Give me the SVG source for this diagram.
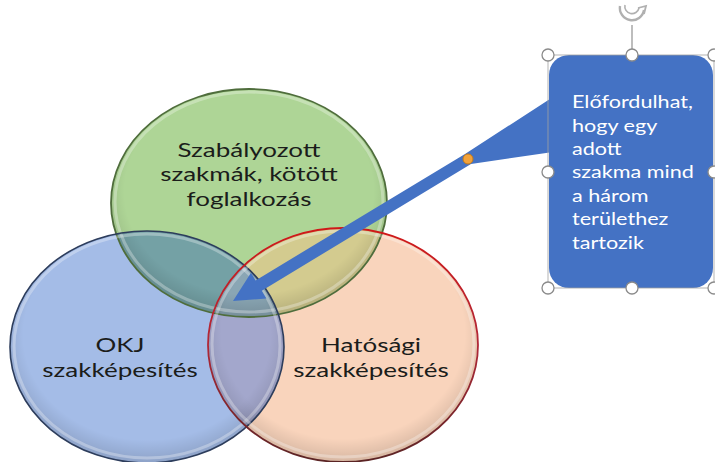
<svg xmlns="http://www.w3.org/2000/svg" width="715" height="462" viewBox="0 0 715 462">
  <defs>
    <style>
      .lbl { font-family: Lato, "Open Sans", "Noto Sans", sans-serif; font-size: 20px; fill: #1b1d1b; text-anchor: middle; }
      .note { font-family: Lato, "Open Sans", "Noto Sans", sans-serif; font-size: 18px; fill: #ffffff; }
      .handle { fill: #ffffff; stroke: #8a8a8a; stroke-width: 1.3; }
      .rim { fill: none; stroke: #ffffff; stroke-opacity: 0.3; stroke-width: 3; }
      .shade { fill: url(#edgeShade); }
    </style>
    <radialGradient id="edgeShade" cx="0.5" cy="0.45" r="0.55">
      <stop offset="0.82" stop-color="#000" stop-opacity="0"/>
      <stop offset="1" stop-color="#000" stop-opacity="0.14"/>
    </radialGradient>
    <linearGradient id="peachEdge" x1="0" y1="0" x2="0" y2="1">
      <stop offset="0" stop-color="#d01818"/>
      <stop offset="0.5" stop-color="#b02838"/>
      <stop offset="1" stop-color="#5a2424"/>
    </linearGradient>
    <clipPath id="cGreen"><ellipse cx="249" cy="203" rx="138" ry="114"/></clipPath>
    <clipPath id="cBlue"><ellipse cx="147" cy="347" rx="137" ry="116"/></clipPath>
    <clipPath id="cPeach"><ellipse cx="343" cy="345" rx="135" ry="117"/></clipPath>
  </defs>

  <rect width="715" height="462" fill="#ffffff"/>

  <!-- base fills of the three sets -->
  <g id="set-fills">
    <ellipse cx="249" cy="203" rx="138" ry="114" fill="#aed596"/>
    <ellipse cx="147" cy="347" rx="137" ry="116" fill="#a4bce7"/>
    <ellipse cx="343" cy="345" rx="135" ry="117" fill="#f9d4bc"/>
    <!-- pairwise overlaps -->
    <ellipse cx="147" cy="347" rx="137" ry="116" fill="#74a1a5" clip-path="url(#cGreen)"/>
    <ellipse cx="343" cy="345" rx="135" ry="117" fill="#d3cb8f" clip-path="url(#cGreen)"/>
    <ellipse cx="343" cy="345" rx="135" ry="117" fill="#a3a7cc" clip-path="url(#cBlue)"/>
    <!-- triple overlap -->
    <g clip-path="url(#cGreen)">
      <ellipse cx="343" cy="345" rx="135" ry="117" fill="#8aa6b4" clip-path="url(#cBlue)"/>
    </g>
  </g>

  <g id="node-green">
    <ellipse class="shade" cx="249" cy="203" rx="138" ry="114"/>
    <ellipse class="rim" cx="249" cy="202" rx="134" ry="110"/>
    <ellipse cx="249" cy="203" rx="138" ry="114" fill="none" stroke="#4f6d3c" stroke-width="1.8"/>
    <g transform="translate(249,0) scale(1.3,1)">
      <text class="lbl" x="0" y="157">Szabályozott</text>
      <text class="lbl" x="0" y="181.5">szakmák, kötött</text>
      <text class="lbl" x="0" y="206">foglalkozás</text>
    </g>
  </g>

  <g id="node-blue">
    <ellipse class="shade" cx="147" cy="347" rx="137" ry="116"/>
    <ellipse class="rim" cx="147" cy="346" rx="133" ry="112"/>
    <ellipse cx="147" cy="347" rx="137" ry="116" fill="none" stroke="#2d3d5c" stroke-width="1.6"/>
    <g transform="translate(120,0) scale(1.3,1)">
      <text class="lbl" x="0" y="352">OKJ</text>
      <text class="lbl" x="0" y="377">szakképesítés</text>
    </g>
  </g>

  <g id="node-peach">
    <ellipse class="shade" cx="343" cy="345" rx="135" ry="117"/>
    <ellipse class="rim" cx="343" cy="344" rx="131" ry="113"/>
    <ellipse cx="343" cy="345" rx="135" ry="117" fill="none" stroke="url(#peachEdge)" stroke-width="1.8"/>
    <g transform="translate(371,0) scale(1.3,1)">
      <text class="lbl" x="0" y="352">Hatósági</text>
      <text class="lbl" x="0" y="377">szakképesítés</text>
    </g>
  </g>

  <!-- callout pointer running into the shared area -->
  <g id="connectors">
    <polygon fill="#4472c4" points="233,301 266.4,298.5 261.8,290.7 471,164 553,152 553,97 465,154 255.6,280.4 251,272.7"/>
    <circle cx="468" cy="159" r="5" fill="#f2a23a" stroke="#c47a1a" stroke-width="1"/>
  </g>

  <g id="node-callout">
    <rect x="549" y="55" width="164" height="233" rx="20" ry="20" fill="#4472c4"/>
    <rect x="548" y="55" width="166" height="233" fill="none" stroke="#a0a0a0" stroke-width="0.8"/>
    <g transform="translate(572,0) scale(1.2,1)">
      <text class="note" x="0" y="108">Előfordulhat,</text>
      <text class="note" x="0" y="132">hogy egy</text>
      <text class="note" x="0" y="155">adott</text>
      <text class="note" x="0" y="178">szakma mind</text>
      <text class="note" x="0" y="202">a három</text>
      <text class="note" x="0" y="225">területhez</text>
      <text class="note" x="0" y="249">tartozik</text>
    </g>
    <!-- rotation grip -->
    <line x1="632" y1="49" x2="632" y2="25" stroke="#9a9a9a" stroke-width="1.3"/>
    <path d="M620,6 A12,12 0 0 0 644,10" fill="none" stroke="#b0b0b0" stroke-width="2.4"/>
    <path d="M625,5 A7,7 0 0 0 639,8" fill="none" stroke="#b0b0b0" stroke-width="1.6"/>
    <path d="M638,8 L646,6 L644,14" fill="none" stroke="#b0b0b0" stroke-width="1.8"/>
    <!-- resize handles -->
    <circle class="handle" cx="548" cy="55" r="6"/>
    <circle class="handle" cx="632" cy="55" r="6"/>
    <circle class="handle" cx="714" cy="55" r="6"/>
    <circle class="handle" cx="548" cy="172" r="6"/>
    <circle class="handle" cx="714" cy="172" r="6"/>
    <circle class="handle" cx="548" cy="288" r="6"/>
    <circle class="handle" cx="632" cy="288" r="6"/>
    <circle class="handle" cx="714" cy="288" r="6"/>
  </g>
</svg>
